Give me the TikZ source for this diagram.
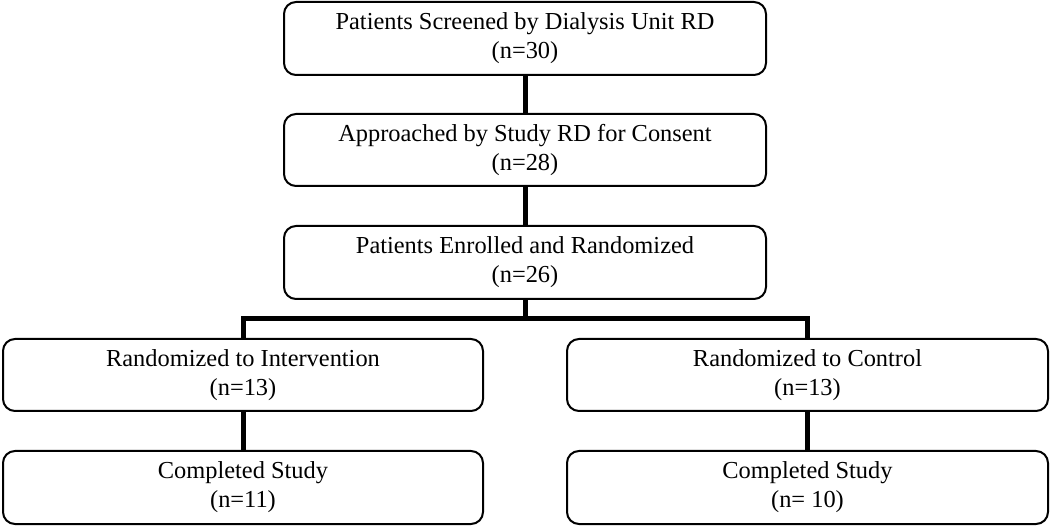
\documentclass[tikz,border=0pt]{standalone}
\usepackage{fontspec}
\setmainfont{Liberation Serif}
\begin{document}
\begin{tikzpicture}[x=1pt,y=-1pt,
  box/.style={draw=black, line width=2pt, rounded corners=12pt, inner sep=0pt,
    align=center, font=\fontsize{24.4}{29}\selectfont, text=black},
  conn/.style={draw=black, line width=5pt}]
\useasboundingbox (0,0) rectangle (1050,526);
\node[box, minimum width=482pt, minimum height=73pt] (b1) at (525,38.5)
  {Patients Screened by Dialysis Unit RD\\(n=30)};
\node[box, minimum width=482pt, minimum height=72pt] (b2) at (525,150)
  {Approached by Study RD for Consent\\(n=28)};
\node[box, minimum width=482pt, minimum height=73pt] (b3) at (525,262.5)
  {Patients Enrolled and Randomized\\(n=26)};
\node[box, minimum width=480pt, minimum height=72pt] (b4l) at (243,375)
  {Randomized to Intervention\\(n=13)};
\node[box, minimum width=481pt, minimum height=72pt] (b4r) at (807.5,375)
  {Randomized to Control\\(n=13)};
\node[box, minimum width=480pt, minimum height=73pt] (b5l) at (243,487.5)
  {Completed Study\\(n=11)};
\node[box, minimum width=481pt, minimum height=73pt] (b5r) at (807.5,487.5)
  {Completed Study\\(n= 10)};
\coordinate (j) at (525,319);
\draw[conn] (b1.south) -- (b2.north);
\draw[conn] (b2.south) -- (b3.north);
\draw[conn] (b3.south) -- (j);
\draw[conn] (b4l.north) |- (j) -| (b4r.north);
\draw[conn] (b4l.south) -- (b5l.north);
\draw[conn] (b4r.south) -- (b5r.north);
\end{tikzpicture}
\end{document}
